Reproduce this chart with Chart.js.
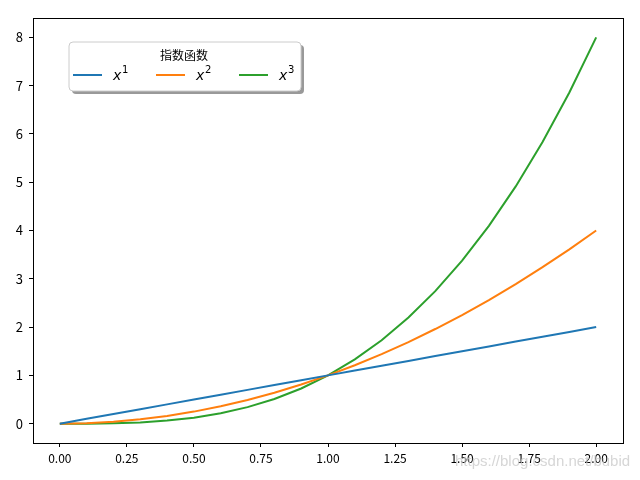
<!DOCTYPE html>
<html>
<head>
<meta charset="utf-8">
<script src="https://cdn.jsdelivr.net/npm/chart.js@4/dist/chart.umd.min.js"></script>
<style>
  html, body { margin: 0; padding: 0; background: #fff; }
  #c { display: block; }
</style>
</head>
<body>
<canvas id="c" width="640" height="480"></canvas>
<script>
const xs = [0, 0.1, 0.2, 0.3, 0.4, 0.5, 0.6, 0.7, 0.8, 0.9, 1.0,
            1.1, 1.2, 1.3, 1.4, 1.5, 1.6, 1.7, 1.8, 1.9, 2.0];
const pow1 = [0, 0.1, 0.2, 0.3, 0.4, 0.5, 0.6, 0.7, 0.8, 0.9, 1.0,
              1.1, 1.2, 1.3, 1.4, 1.5, 1.6, 1.7, 1.8, 1.9, 2.0];
const pow2 = [0, 0.01, 0.04, 0.09, 0.16, 0.25, 0.36, 0.49, 0.64, 0.81, 1.0,
              1.21, 1.44, 1.69, 1.96, 2.25, 2.56, 2.89, 3.24, 3.61, 4.0];
const pow3 = [0, 0.001, 0.008, 0.027, 0.064, 0.125, 0.216, 0.343, 0.512, 0.729, 1.0,
              1.331, 1.728, 2.197, 2.744, 3.375, 4.096, 4.913, 5.832, 6.859, 8.0];
const xTicks = [0, 0.25, 0.5, 0.75, 1.0, 1.25, 1.5, 1.75, 2.0];
const yTicks = [0, 1, 2, 3, 4, 5, 6, 7, 8];
const seriesNames = ['1', '2', '3'];
const seriesColors = ['#1f77b4', '#ff7f0e', '#2ca02c'];
const legendTitle = '指数函数';
const watermark = 'https://blog.csdn.net/bubid';

const FONT = '"Noto Sans CJK SC", "DejaVu Sans", sans-serif';

const toPts = ys => xs.map((x, i) => ({ x, y: ys[i] }));

// Full box frame round the plot area, like matplotlib spines
const frame = {
    id: 'frame',
    afterDatasetsDraw(chart) {
        const { ctx, chartArea: a } = chart;
        ctx.save();
        ctx.strokeStyle = '#000';
        ctx.lineWidth = 1;
        ctx.strokeRect(Math.round(a.left) + 0.5, Math.round(a.top) + 0.5,
                       Math.round(a.right - a.left), Math.round(a.bottom - a.top));
        ctx.restore();
    }
};

// Matplotlib-style boxed legend with shadow and a title
const boxLegend = {
    id: 'boxLegend',
    afterDraw(chart) {
        const ctx = chart.ctx;
        const a = chart.chartArea;
        const x0 = a.left + 36, y0 = a.top + 24, w = 232, h = 49;
        ctx.save();
        // shadow
        ctx.fillStyle = 'rgba(128,128,128,0.8)';
        roundRect(ctx, x0 + 3, y0 + 3, w, h, 4);
        ctx.fill();
        ctx.fillStyle = '#fff';
        ctx.strokeStyle = '#cccccc';
        ctx.lineWidth = 1;
        roundRect(ctx, x0, y0, w, h, 4);
        ctx.fill();
        ctx.stroke();

        ctx.fillStyle = '#000';
        ctx.textAlign = 'center';
        ctx.textBaseline = 'middle';
        ctx.font = '12px ' + FONT;
        ctx.fillText(legendTitle, x0 + w / 2 - 1, y0 + 13);

        const rowY = y0 + 33;
        seriesNames.forEach((n, i) => {
            const lx = x0 + 4 + i * 83;
            ctx.strokeStyle = seriesColors[i];
            ctx.lineWidth = 2;
            ctx.beginPath();
            ctx.moveTo(lx, rowY);
            ctx.lineTo(lx + 29, rowY);
            ctx.stroke();
            ctx.fillStyle = '#000';
            ctx.textAlign = 'left';
            ctx.textBaseline = 'alphabetic';
            ctx.font = 'italic 14px "DejaVu Sans", sans-serif';
            ctx.fillText('x', lx + 40, rowY + 5);
            ctx.font = '10px "DejaVu Sans", sans-serif';
            ctx.fillText(n, lx + 49, rowY - 2);
        });

        // watermark
        ctx.fillStyle = 'rgba(200,200,200,0.75)';
        ctx.font = '15px "Liberation Sans", Arial, sans-serif';
        ctx.textAlign = 'left';
        ctx.textBaseline = 'middle';
        ctx.fillText(watermark, 455, 462);
        ctx.restore();
    }
};

function roundRect(ctx, x, y, w, h, r) {
    ctx.beginPath();
    ctx.moveTo(x + r, y);
    ctx.lineTo(x + w - r, y);
    ctx.quadraticCurveTo(x + w, y, x + w, y + r);
    ctx.lineTo(x + w, y + h - r);
    ctx.quadraticCurveTo(x + w, y + h, x + w - r, y + h);
    ctx.lineTo(x + r, y + h);
    ctx.quadraticCurveTo(x, y + h, x, y + h - r);
    ctx.lineTo(x, y + r);
    ctx.quadraticCurveTo(x, y, x + r, y);
    ctx.closePath();
}

const ds = (ys, i) => ({
    label: 'x' + seriesNames[i],
    data: toPts(ys),
    borderColor: seriesColors[i],
    backgroundColor: seriesColors[i],
    borderWidth: 2,
    pointRadius: 0,
    tension: 0,
    fill: false,
});

new Chart(document.getElementById('c').getContext('2d'), {
    type: 'line',
    data: { datasets: [ds(pow1, 0), ds(pow2, 1), ds(pow3, 2)] },
    options: {
        responsive: false,
        animation: false,
        devicePixelRatio: 1,
        layout: { padding: { top: 18, right: 17, left: 0, bottom: 0 } },
        plugins: { legend: { display: false }, tooltip: { enabled: false } },
        scales: {
            x: {
                type: 'linear', min: -0.1, max: 2.1,
                afterBuildTicks: s => { s.ticks = xTicks.map(v => ({ value: v })); },
                afterFit: s => { s.height = 37; },
                ticks: {
                    color: '#000', padding: 4, maxRotation: 0,
                    font: { family: FONT, size: 12 },
                    callback: v => v.toFixed(2),
                },
                grid: { drawOnChartArea: false, drawTicks: true, tickLength: 4, color: '#000' },
                border: { color: '#000', width: 1 },
            },
            y: {
                type: 'linear', min: -0.4, max: 8.4,
                afterBuildTicks: s => { s.ticks = yTicks.map(v => ({ value: v })); },
                afterFit: s => { s.width = 33; },
                ticks: {
                    color: '#000', padding: 6,
                    font: { family: FONT, size: 13 },
                    callback: v => String(v),
                },
                grid: { drawOnChartArea: false, drawTicks: true, tickLength: 4, color: '#000' },
                border: { color: '#000', width: 1 },
            },
        },
    },
    plugins: [frame, boxLegend],
});
</script>
</body>
</html>
